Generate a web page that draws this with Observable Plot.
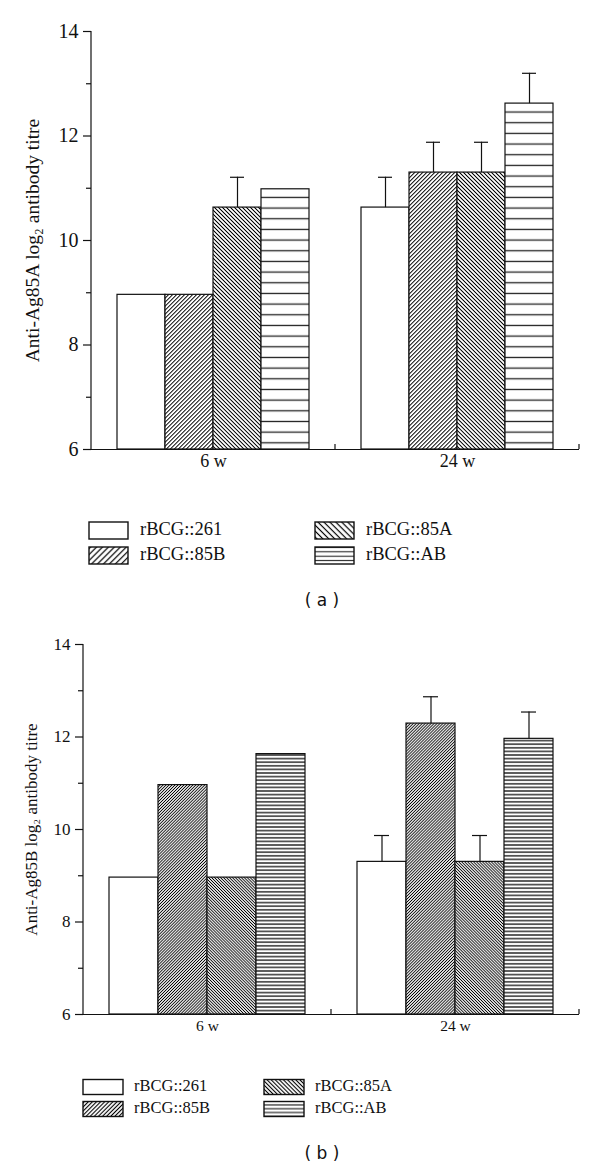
<!DOCTYPE html>
<html>
<head>
<meta charset="utf-8">
<script src="https://cdn.jsdelivr.net/npm/d3@7"></script>
<script src="https://cdn.jsdelivr.net/npm/@observablehq/plot@0.6"></script>
<style>
  html, body { margin: 0; padding: 0; background: #fff; }
  body { position: relative; width: 600px; height: 1168px; overflow: hidden; }
  .abs { position: absolute; left: 0; }
  .cap { position: absolute; font-family: "DejaVu Sans", sans-serif; font-size: 17px; color: #111; transform: translate(-50%, -50%); white-space: pre; }
</style>
</head>
<body>
<svg width="0" height="0" style="position:absolute">
  <defs id="defs"></defs>
</svg>
<div id="plotA" class="abs" style="top:0px"></div>
<div id="plotB" class="abs" style="top:620px"></div>
<div class="cap" style="left:322px; top:600px">( a )</div>
<div class="cap" style="left:322px; top:1153px">( b )</div>
<script>
// ---------------- data ----------------
const groups = ["6 w", "24 w"];
const series = ["rBCG::261", "rBCG::85B", "rBCG::85A", "rBCG::AB"];

// Panel (a): Anti-Ag85A
const meanA_6w  = [8.96, 8.96, 10.63, 10.98];
const meanA_24w = [10.63, 11.30, 11.30, 12.62];
const errA_6w   = [0, 0, 0.58, 0];
const errA_24w  = [0.58, 0.58, 0.58, 0.58];

// Panel (b): Anti-Ag85B
const meanB_6w  = [8.96, 10.96, 8.96, 11.63];
const meanB_24w = [9.30, 12.29, 9.30, 11.96];
const errB_6w   = [0, 0, 0, 0];
const errB_24w  = [0.57, 0.58, 0.57, 0.58];

const yDomain = [6, 14];
const yTicksMajor = [6, 8, 10, 12, 14];
const yTicksMinor = [7, 9, 11, 13];

const labelA = "Anti-Ag85A log\u2082 antibody titre";
const labelB = "Anti-Ag85B log\u2082 antibody titre";

// ---------------- patterns ----------------
const defs = d3.select("#defs");
function hatch(id, spacing, angle, sw, color) {
  const p = defs.append("pattern").attr("id", id).attr("patternUnits", "userSpaceOnUse")
    .attr("width", spacing).attr("height", spacing)
    .attr("patternTransform", `rotate(${angle})`);
  p.append("rect").attr("width", spacing).attr("height", spacing).attr("fill", "white");
  p.append("line").attr("x1", spacing / 2).attr("x2", spacing / 2).attr("y1", -1).attr("y2", spacing + 1)
    .attr("stroke", color).attr("stroke-width", sw);
}
function horiz(id, spacing, sw, color) {
  const p = defs.append("pattern").attr("id", id).attr("patternUnits", "userSpaceOnUse")
    .attr("width", 10).attr("height", spacing);
  p.append("rect").attr("width", 10).attr("height", spacing).attr("fill", "white");
  p.append("line").attr("x1", -1).attr("x2", 11).attr("y1", spacing / 2).attr("y2", spacing / 2)
    .attr("stroke", color).attr("stroke-width", sw);
}
// panel a bars
hatch("a-fwd", 2.83, 45, 1.0, "#000");
hatch("a-back", 2.83, -45, 1.0, "#000");
horiz("a-hor", 10.67, 1.3, "#222");
// panel b bars
hatch("b-fwd", 2.1, 45, 0.9, "#000");
hatch("b-back", 2.1, -45, 0.9, "#000");
horiz("b-hor", 3.6, 1.3, "#111");
// legends
hatch("la-fwd", 4.2, 45, 1.2, "#000");
hatch("la-back", 4.2, -45, 1.2, "#000");
horiz("la-hor", 4.4, 1.1, "#222");
hatch("lb-fwd", 2.9, 45, 1.1, "#000");
hatch("lb-back", 2.9, -45, 1.1, "#000");
horiz("lb-hor", 3.8, 1.1, "#111");

const fillsFor = (p) => ["white", `url(#${p}-fwd)`, `url(#${p}-back)`, `url(#${p}-hor)`];

// ---------------- builders ----------------
function table(m6, m24, e6, e24) {
  const M = [m6, m24], E = [e6, e24];
  return groups.flatMap((g, gi) => series.map((s, si) => ({group: g, series: s, value: M[gi][si], err: E[gi][si]})));
}

const serif = "'Liberation Serif', 'Times New Roman', serif";

function panel(el, data, o) {
  const errs = data.filter(d => d.err > 0);
  const plot = Plot.plot({
    width: 600,
    height: o.height,
    marginLeft: o.ml, marginRight: o.mr, marginTop: o.mt, marginBottom: o.mb,
    style: {fontFamily: serif, fontSize: o.fs + "px", color: "#111", background: "white"},
    fx: {domain: groups, padding: 0},
    x: {domain: series, paddingInner: 0, paddingOuter: 0.5, axis: null},
    y: {domain: yDomain, axis: null},
    color: {type: "ordinal", domain: series, range: fillsFor(o.pat)},
    marks: [
      Plot.barY(data, {fx: "group", x: "series", y1: yDomain[0], y2: "value", fill: "series", stroke: "#111", strokeWidth: 1.2}),
      Plot.ruleX(errs, {fx: "group", x: "series", y1: "value", y2: d => d.value + d.err, stroke: "#111", strokeWidth: 1.2}),
      Plot.tickY(errs, {fx: "group", x: "series", y: d => d.value + d.err, stroke: "#111", strokeWidth: 1.2, insetLeft: o.cap, insetRight: o.cap}),
      Plot.ruleY([yDomain[0]], {stroke: "#111", strokeWidth: 1.2}),
      Plot.axisY({ticks: yTicksMajor, tickSize: 8, tickPadding: 5, strokeWidth: 1.2, fontSize: o.tfs, label: null}),
      Plot.axisY({ticks: yTicksMinor, tickSize: 5, strokeWidth: 1.2, tickFormat: () => "", label: null}),
      Plot.axisY({ticks: [], tickSize: 0, fontSize: o.lfs, label: o.label, labelAnchor: "center", labelOffset: o.lo, labelArrow: "none"}),
      Plot.axisFx({anchor: "bottom", tickSize: 0, tickPadding: 5, fontSize: o.fs, label: null})
    ]
  });
  // y-axis line and group-boundary ticks, placed through the plot's own scales
  const fx = plot.scale("fx"), y = plot.scale("y");
  const svg = d3.select(plot.tagName.toLowerCase() === "svg" ? plot : plot.querySelector("svg"));
  const x0 = fx.apply(groups[0]);
  const yb = y.apply(yDomain[0]), yt = y.apply(yDomain[1]);
  const g = svg.append("g").attr("stroke", "#111").attr("stroke-width", 1.2);
  g.append("line").attr("x1", x0).attr("x2", x0).attr("y1", yb + 0.6).attr("y2", yt);
  groups.forEach(k => {
    const xr = fx.apply(k) + fx.bandwidth;
    g.append("line").attr("x1", xr).attr("x2", xr).attr("y1", yb).attr("y2", yb - 5);
  });
  document.getElementById(el).appendChild(plot);
}

function legend(top, o) {
  const svg = d3.select("body").append("svg")
    .attr("width", 600).attr("height", 70)
    .style("position", "absolute").style("left", "0px").style("top", top + "px");
  const fills = fillsFor(o.pat);
  series.forEach((s, i) => {
    const col = Math.floor(i / 2), row = i % 2;
    const x = o.cols[col], y = o.rows[row];
    svg.append("rect").attr("x", x).attr("y", y).attr("width", o.w).attr("height", o.h)
      .attr("fill", fills[i]).attr("stroke", "#111").attr("stroke-width", 1.4);
    svg.append("text").attr("x", x + o.w + o.gap).attr("y", y + o.base)
      .attr("font-family", serif).attr("font-size", o.fs)
      .attr("fill", "#111").text(s);
  });
}

panel("plotA", table(meanA_6w, meanA_24w, errA_6w, errA_24w),
  {height: 480, ml: 90, mr: 21, mt: 31, mb: 31, fs: 18, tfs: 20, lfs: 19.5, pat: "a", cap: 17, label: labelA, lo: 66});
panel("plotB", table(meanB_6w, meanB_24w, errB_6w, errB_24w),
  {height: 420, ml: 83, mr: 21, mt: 24, mb: 26, fs: 15.5, tfs: 17, lfs: 17, pat: "b", cap: 17, label: labelB, lo: 59});

legend(510, {pat: "la", cols: [89, 315], rows: [12, 37], w: 39, h: 17, gap: 12, base: 13, fs: 18.5});
legend(1065, {pat: "lb", cols: [83, 264], rows: [14.5, 36.5], w: 40, h: 15, gap: 11, base: 11.5, fs: 16.5});
</script>
</body>
</html>
